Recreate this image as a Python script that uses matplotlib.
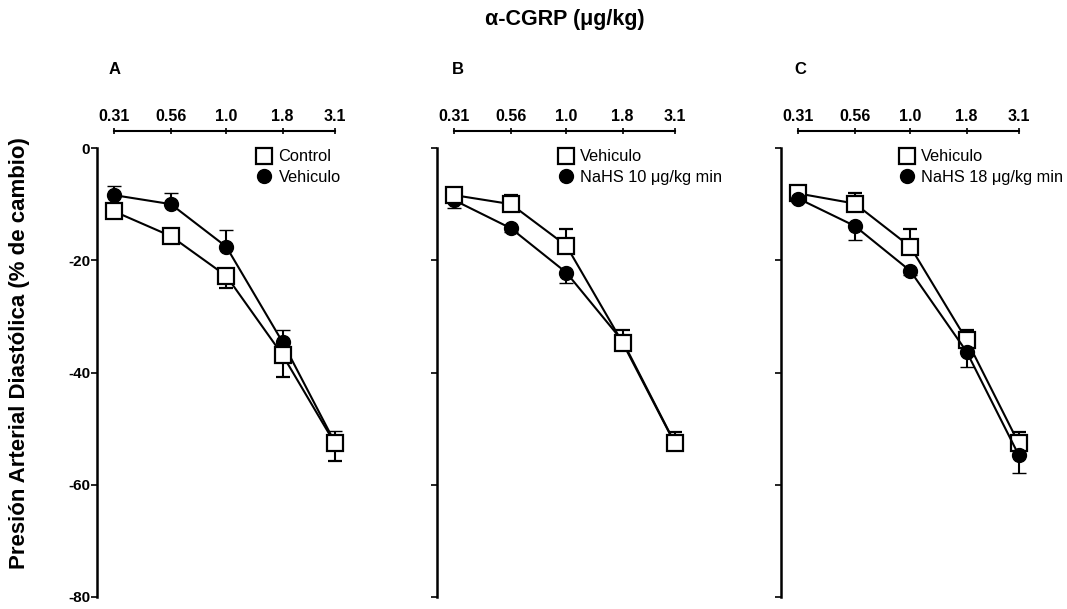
import numpy as np
import matplotlib
matplotlib.use("Agg")
import matplotlib.pyplot as plt

plt.rcParams['font.family'] = ['Liberation Sans', 'DejaVu Sans']

doses = [0.31, 0.56, 1.0, 1.8, 3.1]
dose_labels = ["0.31", "0.56", "1.0", "1.8", "3.1"]

# panel A
ctrl_A = [-11.3, -15.7, -22.8, -36.9, -52.6]
ctrl_A_err = [0.8, 1.0, 2.2, 3.9, 3.2]      # drawn downward
veh_A = [-8.4, -10.0, -17.6, -34.6, -52.4]
veh_A_err = [1.7, 1.9, 3.0, 2.2, 2.0]       # drawn upward

# panel B
veh_B = [-8.4, -10.0, -17.4, -34.7, -52.6]
veh_B_err = [0.8, 1.6, 2.9, 2.3, 2.0]
nahs10_B = [-9.3, -14.3, -22.2, -34.4, -52.5]
nahs10_B_err = [1.4, 0.6, 1.9, 0.8, 0.8]

# panel C
veh_C = [-8.1, -9.9, -17.6, -34.2, -52.6]
veh_C_err = [0.8, 1.9, 3.1, 1.8, 2.0]
nahs18_C = [-9.0, -13.9, -21.9, -36.3, -54.7]
nahs18_C_err = [0.6, 2.5, 0.8, 2.8, 3.2]

yticks = [0, -20, -40, -60, -80]

W, H = 1067, 609
fig = plt.figure(figsize=(W / 100, H / 100), dpi=100)

lefts = [97, 437, 781]
ax_w = 252
ax_bottom = 12
ax_h = 449


def square_series(ax, y, err, up, label, z):
    e = [np.zeros(5), err] if up else [err, np.zeros(5)]
    return ax.errorbar(doses, y, yerr=e, fmt='-s', color='black', mfc='white', mec='black',
                       ms=11.5, mew=1.6, lw=1.5, capsize=5, capthick=1.5, elinewidth=1.5,
                       label=label, zorder=z)


def circle_series(ax, y, err, up, label, z):
    e = [np.zeros(5), err] if up else [err, np.zeros(5)]
    return ax.errorbar(doses, y, yerr=e, fmt='-o', color='black', mfc='black', mec='black',
                       ms=10, mew=1.0, lw=1.5, capsize=5, capthick=1.5, elinewidth=1.5,
                       label=label, zorder=z)


axes = []
for i, l in enumerate(lefts):
    ax = fig.add_axes([l / W, ax_bottom / H, ax_w / W, ax_h / H])
    ax.set_xscale('log')
    ax.set_xlim(0.259, 3.6)
    ax.set_ylim(-80, 0)
    for s in ['right', 'bottom']:
        ax.spines[s].set_visible(False)
    ax.spines['left'].set_linewidth(1.8)
    ax.spines['top'].set_linewidth(1.5)
    ax.spines['top'].set_position(('outward', 12))
    ax.spines['top'].set_bounds(0.31, 3.1)
    ax.xaxis.set_ticks_position('top')
    ax.set_xticks(doses)
    ax.set_xticklabels(dose_labels, fontsize=11.5, fontweight='bold')
    ax.xaxis.set_minor_locator(matplotlib.ticker.NullLocator())
    ax.tick_params(axis='x', direction='inout', length=4, width=1.2, pad=3)
    ax.set_yticks(yticks)
    ax.tick_params(axis='y', direction='out', length=4, width=1.2, pad=1)
    if i == 0:
        ax.set_yticklabels([str(t) for t in yticks], fontsize=11, fontweight='bold')
    else:
        ax.set_yticklabels([])
    axes.append(ax)

axA, axB, axC = axes

cA = circle_series(axA, veh_A, veh_A_err, True, "Vehiculo", 3)
sA = square_series(axA, ctrl_A, ctrl_A_err, False, "Control", 4)

cB = circle_series(axB, nahs10_B, nahs10_B_err, False, "NaHS 10 \u03bcg/kg min", 3)
sB = square_series(axB, veh_B, veh_B_err, True, "Vehiculo", 4)

sC = square_series(axC, veh_C, veh_C_err, True, "Vehiculo", 3)
cC = circle_series(axC, nahs18_C, nahs18_C_err, False, "NaHS 18 \u03bcg/kg min", 4)

legends = [
    (axA, [sA, cA], ["Control", "Vehiculo"], 0.603),
    (axB, [sB, cB], ["Vehiculo", "NaHS 10 \u03bcg/kg min"], 0.452),
    (axC, [sC, cC], ["Vehiculo", "NaHS 18 \u03bcg/kg min"], 0.44),
]
for ax, hh, ll, lx in legends:
    leg = ax.legend([x[0] for x in hh], ll, loc='upper left', bbox_to_anchor=(lx, 1.015),
                    frameon=False, fontsize=11.8, handlelength=0.8, handletextpad=0.5,
                    borderpad=0, labelspacing=0.35)
    for line in leg.get_lines():
        line.set_linestyle('None')

fig.text(565 / W, 1 - 20 / H, "\u03b1-CGRP (\u03bcg/kg)", ha='center', va='center',
         fontsize=15.5, fontweight='bold')
for x, s in zip([115, 458, 800], ["A", "B", "C"]):
    fig.text(x / W, 1 - 70 / H, s, ha='center', va='center', fontsize=12, fontweight='bold')

fig.text(20 / W, 1 - 353 / H, "Presión Arterial Diastólica (% de cambio)",
         rotation=90, ha='center', va='center', fontsize=16, fontweight='bold')

fig.savefig("out.png", dpi=100)
plt.close(fig)
